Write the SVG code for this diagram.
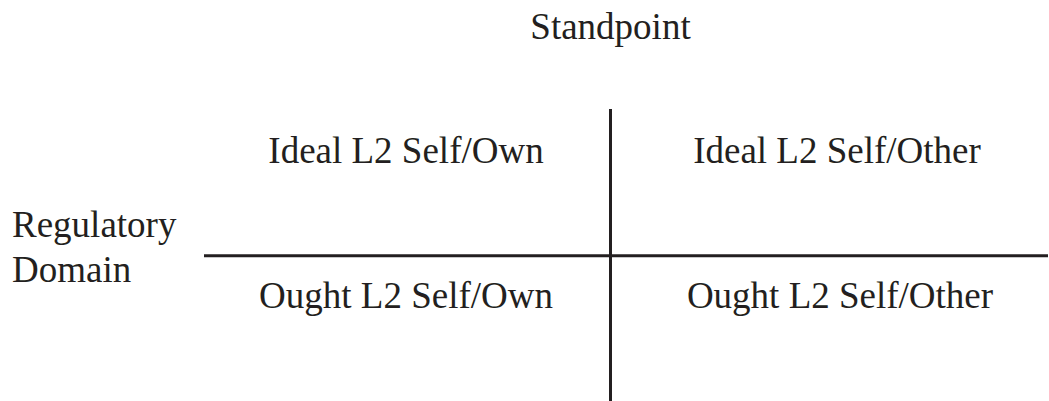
<svg xmlns="http://www.w3.org/2000/svg" width="1049" height="401" viewBox="0 0 1049 401">
<style>
text{font-family:"Liberation Serif","Times New Roman",serif;font-size:37px;fill:#231f20}
.c{text-anchor:middle}
line{stroke:#231f20;stroke-width:3}
</style>
<rect width="1049" height="401" fill="#fff"/>
<g id="connectors">
<line x1="610.5" y1="109" x2="610.5" y2="401"/>
<line x1="204" y1="255.7" x2="1048" y2="255.7"/>
</g>
<g id="standpoint"><text class="c" x="610.5" y="39">Standpoint</text></g>
<g id="regulatory-domain"><text x="12" y="236.7">Regulatory</text><text x="12" y="281.7">Domain</text></g>
<g id="ideal-own"><text class="c" x="406" y="162.7">Ideal L2 Self/Own</text></g>
<g id="ideal-other"><text class="c" x="837" y="162.7">Ideal L2 Self/Other</text></g>
<g id="ought-own"><text class="c" x="406" y="308">Ought L2 Self/Own</text></g>
<g id="ought-other"><text class="c" x="840" y="308">Ought L2 Self/Other</text></g>
</svg>
